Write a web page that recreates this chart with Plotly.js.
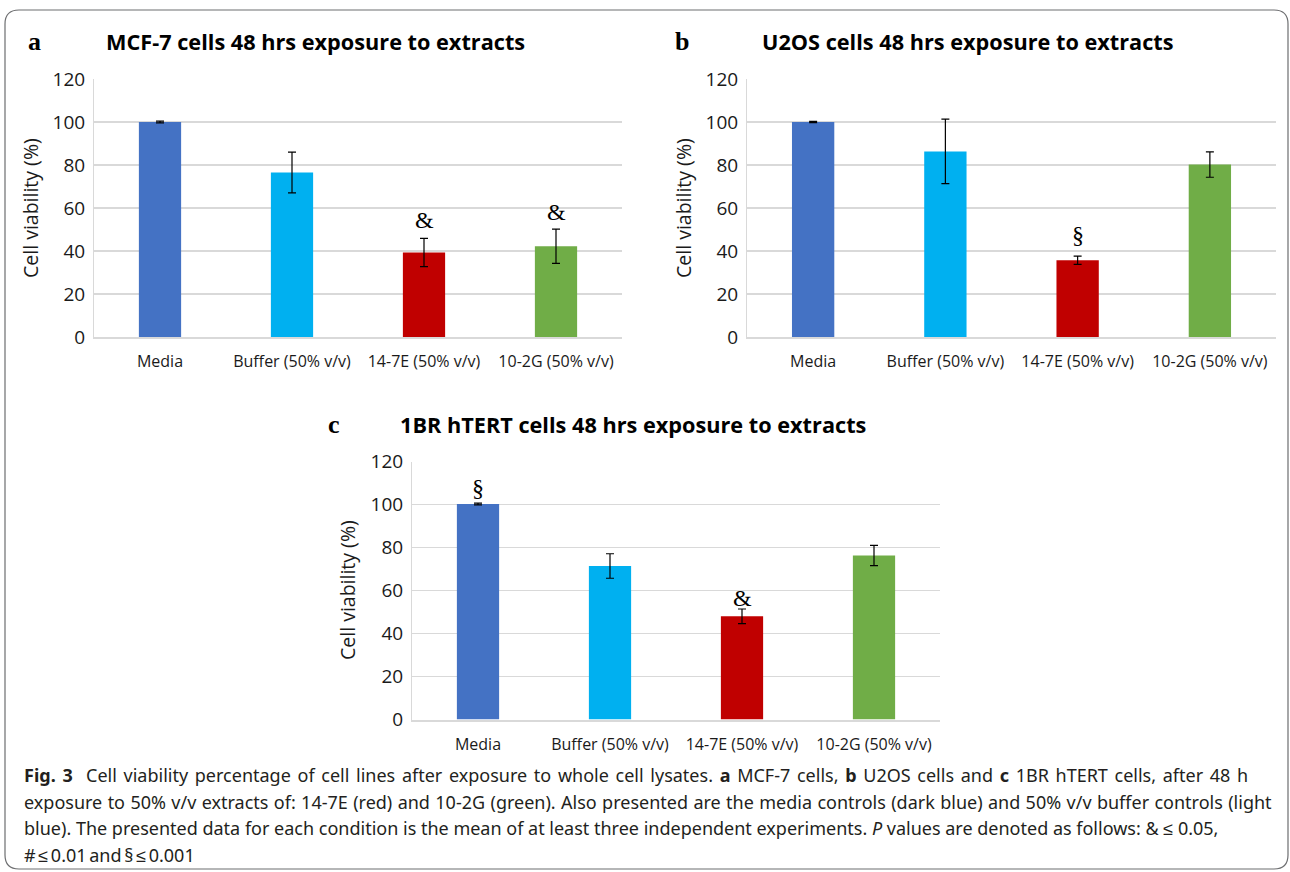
<!DOCTYPE html>
<html>
<head>
<meta charset="utf-8">
<script src="https://cdn.plot.ly/plotly-3.0.1.min.js"></script>
<style>html,body{margin:0;padding:0;background:#fff;}#chart{width:1290px;height:872px;}</style>
</head>
<body>
<div id="chart"></div>
<script>
// ---------- data ----------
const categories = ['Media', 'Buffer (50% v/v)', '14-7E (50% v/v)', '10-2G (50% v/v)'];
const barColors = ['#4472C4', '#00B0F0', '#C00000', '#70AD47'];

const mcf7Values = [100, 76.5, 39.3, 42.2];
const mcf7Errors = [0.4, 9.5, 6.6, 8.0];
const mcf7Sig = ['', '', '&', '&'];
const mcf7SigY = [null, null, 54.4, 58.3];

const u2osValues = [100, 86.3, 35.7, 80.2];
const u2osErrors = [0.3, 15.0, 1.9, 5.9];
const u2osSig = ['', '', '§', ''];
const u2osSigY = [null, null, 47.3, null];

const hbrValues = [100.2, 71.4, 48.0, 76.3];
const hbrErrors = [0.4, 5.7, 3.4, 4.7];
const hbrSig = ['§', '', '&', ''];
const hbrSigY = [107.6, null, 56.6, null];

const yTicks = [0, 20, 40, 60, 80, 100, 120];

const panelTitles = ['MCF-7 cells 48 hrs exposure to extracts',
                     'U2OS cells 48 hrs exposure to extracts',
                     '1BR hTERT cells 48 hrs exposure to extracts'];
const panelLetters = ['a', 'b', 'c'];
const yTitle = 'Cell viability (%)';

const captionLines = [
  '<b>Fig. 3</b>  Cell viability percentage of cell lines after exposure to whole cell lysates. <b>a</b> MCF-7 cells, <b>b</b> U2OS cells and <b>c</b> 1BR hTERT cells, after 48 h',
  'exposure to 50% v/v extracts of: 14-7E (red) and 10-2G (green). Also presented are the media controls (dark blue) and 50% v/v buffer controls (light',
  'blue). The presented data for each condition is the mean of at least three independent experiments. <i>P</i> values are denoted as follows: & ≤ 0.05,',
  '# ≤ 0.01 and § ≤ 0.001'
];
const captionWordSpacing = [2, 0.7, 0, -2];

// ---------- layout helpers (pixel -> paper) ----------
const W = 1290, H = 872;
const px = x => x / W;
const py = y => 1 - y / H;

const panels = [
  {vals: mcf7Values, errs: mcf7Errors, sig: mcf7Sig, sigY: mcf7SigY, xd: [94, 622], yd: [337, 79], ax: ''},
  {vals: u2osValues, errs: u2osErrors, sig: u2osSig, sigY: u2osSigY, xd: [747, 1276], yd: [337, 79], ax: '2'},
  {vals: hbrValues, errs: hbrErrors, sig: hbrSig, sigY: hbrSigY, xd: [412, 940], yd: [719.5, 461.5], ax: '3'}
];
const titlePos = [[315, 41], [968, 41], [633, 424]];
const letterPos = [[34, 42], [682, 42], [334, 424]];
const yTitlePos = [[30, 208], [683, 208], [347, 590]];

const traces = [];
const annotations = [];
const layout = {
  width: W, height: H,
  margin: {l: 0, r: 0, t: 0, b: 0},
  paper_bgcolor: '#fff', plot_bgcolor: '#fff',
  showlegend: false,
  font: {family: 'Open Sans, sans-serif', color: '#1a1a1a'},
  annotations: annotations,
  shapes: []
};

panels.forEach((p, i) => {
  traces.push({
    type: 'bar',
    x: categories,
    y: p.vals,
    width: 0.32,
    marker: {color: barColors, line: {width: 0}},
    error_y: {type: 'data', array: p.errs, visible: true, color: '#000', thickness: 1.2, width: 4},
    xaxis: 'x' + p.ax, yaxis: 'y' + p.ax,
    hoverinfo: 'x+y'
  });
  layout['xaxis' + p.ax] = {
    domain: [px(p.xd[0]), px(p.xd[1])],
    anchor: 'y' + p.ax,
    type: 'category',
    range: [-0.5, 3.5],
    showline: true, linecolor: '#d9d9d9', linewidth: 2,
    showgrid: false, zeroline: false, ticks: '',
    ticklabelstandoff: 9,
    tickfont: {family: 'Open Sans, sans-serif', size: 16, color: '#1a1a1a'},
    fixedrange: true
  };
  layout['yaxis' + p.ax] = {
    domain: [py(p.yd[0]), py(p.yd[1])],
    anchor: 'x' + p.ax,
    range: [0, 120],
    tickvals: yTicks,
    showline: true, linecolor: '#d9d9d9', linewidth: 1,
    showgrid: true, gridcolor: '#d9d9d9', gridwidth: 1.5,
    zeroline: false, ticks: '',
    ticklabelstandoff: 4,
    tickfont: {family: 'Open Sans, sans-serif', size: 19, color: '#1a1a1a'},
    fixedrange: true
  };
  // significance marks
  p.sig.forEach((s, k) => {
    if (!s) return;
    annotations.push({
      xref: 'x' + p.ax, yref: 'y' + p.ax,
      x: categories[k], y: p.sigY[k],
      yanchor: 'middle',
      text: s, showarrow: false,
      font: {family: 'Liberation Serif, Times New Roman, serif', size: 24, color: '#000'}
    });
  });
  // title
  annotations.push({
    xref: 'paper', yref: 'paper', x: px(titlePos[i][0]), y: py(titlePos[i][1]),
    xanchor: 'center', yanchor: 'middle', text: '<b>' + panelTitles[i] + '</b>', showarrow: false,
    font: {family: 'Open Sans, sans-serif', size: 21.7, color: '#000'}
  });
  // letter
  annotations.push({
    xref: 'paper', yref: 'paper', x: px(letterPos[i][0]), y: py(letterPos[i][1]),
    xanchor: 'center', yanchor: 'middle', text: '<b>' + panelLetters[i] + '</b>', showarrow: false,
    font: {family: 'Liberation Serif, Times New Roman, serif', size: 26, color: '#000'}
  });
  // y title
  annotations.push({
    xref: 'paper', yref: 'paper', x: px(yTitlePos[i][0]), y: py(yTitlePos[i][1]),
    xanchor: 'center', yanchor: 'middle', textangle: -90, text: yTitle, showarrow: false,
    font: {family: 'Open Sans, sans-serif', size: 19.5, color: '#1a1a1a'}
  });
});

// caption
const captionY = [775, 801.5, 828, 855];
const captionStart = annotations.length;
captionLines.forEach((t, i) => {
  annotations.push({
    xref: 'paper', yref: 'paper', x: px(22), y: py(captionY[i]),
    xanchor: 'left', yanchor: 'middle', align: 'left', text: t, showarrow: false,
    font: {family: 'Noto Sans, sans-serif', size: 18, color: '#231f20'}
  });
});

// rounded border
const bx0 = px(5), bx1 = px(1288), by0 = py(10), by1 = py(869);
const rx = px(14), ry = 14 / H;
layout.shapes.push({
  type: 'path', xref: 'paper', yref: 'paper',
  path: `M ${bx0 + rx} ${by0} L ${bx1 - rx} ${by0} Q ${bx1} ${by0} ${bx1} ${by0 - ry} L ${bx1} ${by1 + ry} Q ${bx1} ${by1} ${bx1 - rx} ${by1} L ${bx0 + rx} ${by1} Q ${bx0} ${by1} ${bx0} ${by1 + ry} L ${bx0} ${by0 - ry} Q ${bx0} ${by0} ${bx0 + rx} ${by0} Z`,
  line: {color: '#6d6e70', width: 1.2}, fillcolor: 'rgba(0,0,0,0)', layer: 'below'
});

Plotly.newPlot('chart', traces, layout, {displayModeBar: false, staticPlot: true}).then(gd => {
  const texts = gd.querySelectorAll('.annotation');
  captionLines.forEach((t, i) => {
    const g = texts[captionStart + i];
    if (!g) return;
    const txt = g.querySelector('text');
    if (txt) txt.style.wordSpacing = captionWordSpacing[i] + 'px';
  });
});
</script>
</body>
</html>
